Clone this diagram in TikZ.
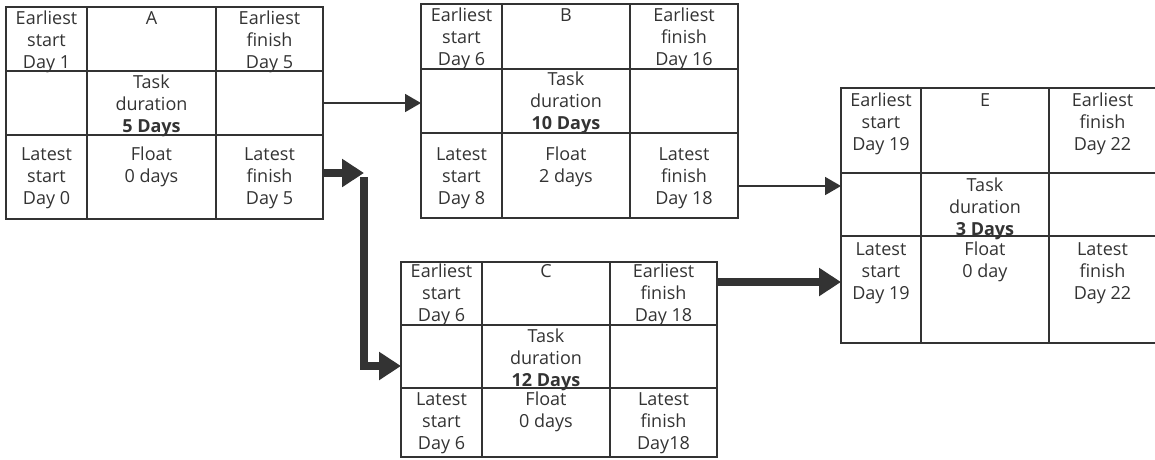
\documentclass[tikz,border=0pt]{standalone}
\usepackage{fontspec}
\setmainfont{Open Sans}
\usetikzlibrary{arrows.meta}
\definecolor{ink}{HTML}{333333}
\tikzset{
  cellbox/.style={draw=ink, line width=1.8pt, inner sep=0pt, outer sep=0pt, anchor=north west},
  celltxt/.style={text=ink, inner sep=0pt, anchor=north, align=center, font={\fontsize{18pt}{22pt}\selectfont}},
  thinarrow/.style={draw=ink, line width=1.8pt, -{Triangle[length=16pt,width=18pt]}},
  thickarrow/.style={draw=ink, line width=8pt, -{Triangle[length=22pt,width=27pt]}}
}
\newcommand\mkcell[5]{\node[cellbox,minimum width=#4pt,minimum height=#5pt] (#1) at (#2,#3) {};}
\newcommand\mktext[4]{\node[celltxt] (#1) at ([yshift=-#3pt]#2.north) {\rule{0pt}{14pt}#4};}
\begin{document}
\begin{tikzpicture}[x=1pt,y=-1pt]
\useasboundingbox (0,0) rectangle (1155,459);
% ---------- Box A ----------
\mkcell{A1}{6}{7}{81}{64}\mkcell{A2}{87}{7}{129}{64}\mkcell{A3}{216}{7}{107}{64}
\mkcell{A4}{6}{71}{81}{64}\mkcell{A5}{87}{71}{129}{64}\mkcell{A6}{216}{71}{107}{64}
\mkcell{A7}{6}{135}{81}{84}\mkcell{A8}{87}{135}{129}{84}\mkcell{A9}{216}{135}{107}{84}
\mktext{A1t}{A1}{3}{Earliest\\start\\Day 1}
\mktext{A2t}{A2}{3}{A}
\mktext{A3t}{A3}{3}{Earliest\\finish\\Day 5}
\mktext{A5t}{A5}{3}{Task\\duration\\\textbf{5 Days}}
\mktext{A7t}{A7}{11}{Latest\\start\\Day 0}
\mktext{A8t}{A8}{11}{Float\\0 days}
\mktext{A9t}{A9}{11}{Latest\\finish\\Day 5}
% ---------- Box B ----------
\mkcell{B1}{421}{4}{81}{65}\mkcell{B2}{502}{4}{128}{65}\mkcell{B3}{630}{4}{108}{65}
\mkcell{B4}{421}{69}{81}{64}\mkcell{B5}{502}{69}{128}{64}\mkcell{B6}{630}{69}{108}{64}
\mkcell{B7}{421}{133}{81}{85}\mkcell{B8}{502}{133}{128}{85}\mkcell{B9}{630}{133}{108}{85}
\mktext{B1t}{B1}{3}{Earliest\\start\\Day 6}
\mktext{B2t}{B2}{3}{B}
\mktext{B3t}{B3}{3}{Earliest\\finish\\Day 16}
\mktext{B5t}{B5}{2}{Task\\duration\\\textbf{10 Days}}
\mktext{B7t}{B7}{13}{Latest\\start\\Day 8}
\mktext{B8t}{B8}{13}{Float\\2 days}
\mktext{B9t}{B9}{13}{Latest\\finish\\Day 18}
% ---------- Box C ----------
\mkcell{C1}{401}{262}{81}{63}\mkcell{C2}{482}{262}{128}{63}\mkcell{C3}{610}{262}{107}{63}
\mkcell{C4}{401}{325}{81}{63}\mkcell{C5}{482}{325}{128}{63}\mkcell{C6}{610}{325}{107}{63}
\mkcell{C7}{401}{388}{81}{69}\mkcell{C8}{482}{388}{128}{69}\mkcell{C9}{610}{388}{107}{69}
\mktext{C1t}{C1}{1}{Earliest\\start\\Day 6}
\mktext{C2t}{C2}{1}{C}
\mktext{C3t}{C3}{1}{Earliest\\finish\\Day 18}
\mktext{C5t}{C5}{3}{Task\\duration\\\textbf{12 Days}}
\mktext{C7t}{C7}{3}{Latest\\start\\Day 6}
\mktext{C8t}{C8}{3}{Float\\0 days}
\mktext{C9t}{C9}{3}{Latest\\finish\\Day18}
% ---------- Box E ----------
\mkcell{E1}{841}{88}{80}{85}\mkcell{E2}{921}{88}{128}{85}\mkcell{E3}{1049}{88}{107}{85}
\mkcell{E4}{841}{173}{80}{63}\mkcell{E5}{921}{173}{128}{63}\mkcell{E6}{1049}{173}{107}{63}
\mkcell{E7}{841}{236}{80}{107}\mkcell{E8}{921}{236}{128}{107}\mkcell{E9}{1049}{236}{107}{107}
\mktext{E1t}{E1}{4}{Earliest\\start\\Day 19}
\mktext{E2t}{E2}{4}{E}
\mktext{E3t}{E3}{4}{Earliest\\finish\\Day 22}
\mktext{E5t}{E5}{4}{Task\\duration\\\textbf{3 Days}}
\mktext{E7t}{E7}{5}{Latest\\start\\Day 19}
\mktext{E8t}{E8}{5}{Float\\0 day}
\mktext{E9t}{E9}{5}{Latest\\finish\\Day 22}
% ---------- Connectors ----------
\draw[thinarrow] (A6.east) -- (A6.east -| B4.west);
\draw[thinarrow] ([yshift=-10.5pt]B9.east) -- ([yshift=-10.5pt]B9.east -| E4.west);
\draw[thickarrow] ([yshift=11.5pt]C3.east) -- ([yshift=11.5pt]C3.east -| E7.west);
\coordinate (k1) at (364,173);
\draw[thickarrow] ([yshift=4pt]A9.east) -- (k1);
\draw[thickarrow] ([yshift=-4pt]k1) |- ([yshift=-9.5pt]C4.west);
\end{tikzpicture}
\end{document}
